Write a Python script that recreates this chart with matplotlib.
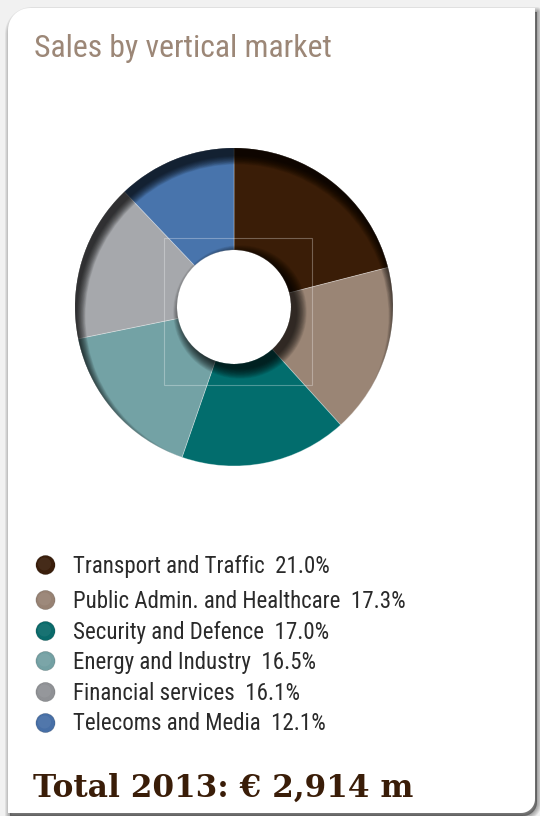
import numpy as np
import matplotlib
matplotlib.use("Agg")
import matplotlib.pyplot as plt
from matplotlib import font_manager
from matplotlib.patches import Wedge, Circle, Rectangle, PathPatch
from matplotlib.path import Path

# ---------------------------------------------------------------------------
# Data
# ---------------------------------------------------------------------------
labels = [
    "Transport and Traffic",
    "Public Admin. and Healthcare",
    "Security and Defence",
    "Energy and Industry",
    "Financial services",
    "Telecoms and Media",
]
shares = [21.0, 17.3, 17.0, 16.5, 16.1, 12.1]
slice_colors = ["#3a1d07", "#9a8575", "#026d6d", "#73a2a5", "#a6a8ac", "#4874ac"]
dot_colors = ["#3a1e0b", "#978273", "#0a6a6a", "#73a0a3", "#8f9195", "#476fa6"]
title = "Sales by vertical market"
total_text = "Total 2013: \u20ac 2,914 m"

# ---------------------------------------------------------------------------
# Fonts
# ---------------------------------------------------------------------------
installed = {f.name for f in font_manager.fontManager.ttflist}


def pick(*names):
    for n in names:
        if n in installed:
            return n
    return "DejaVu Sans"


SANS = pick("Liberation Sans Narrow", "Roboto Condensed", "Open Sans Condensed", "Lato", "Open Sans")
SERIF = pick("DejaVu Serif", "Liberation Serif")

W, H = 540, 816
fig = plt.figure(figsize=(W / 100, H / 100), dpi=100, facecolor="#f1f1f1")
ax = fig.add_axes([0, 0, 1, 1])


# ---------------------------------------------------------------------------
# Card (pixel coordinates, y downward)
# ---------------------------------------------------------------------------
def card_path(x0, y0, x1, y1, r_tl, r_br):
    verts = []
    t = np.linspace(np.pi, 1.5 * np.pi, 14)
    verts += list(zip(x0 + r_tl + r_tl * np.cos(t), y0 + r_tl + r_tl * np.sin(t)))
    verts.append((x1, y0))
    t = np.linspace(0, 0.5 * np.pi, 14)
    verts += list(zip(x1 - r_br + r_br * np.cos(t), y1 - r_br + r_br * np.sin(t)))
    verts.append((x0, y1))
    verts.append(verts[0])
    return Path(verts, closed=True)


for i in range(1, 7):
    shadow = card_path(8 + 2, 8 + 4, 535 + 2, 813 + 3, 22, 14)
    ax.add_patch(PathPatch(shadow, fc=(0, 0, 0, 0.08), ec=(0, 0, 0, 0.06),
                           lw=i * 1.2, joinstyle="round", zorder=0))
ax.add_patch(PathPatch(card_path(8, 8, 535, 813, 22, 14), fc="white", ec="none", zorder=0.5))

# ---------------------------------------------------------------------------
# Donut
# ---------------------------------------------------------------------------
cx, cy, R, r_in = 234, 307, 159, 57
wedges, _ = ax.pie(shares, colors=slice_colors, startangle=270, counterclock=True,
                   radius=R, center=(cx, cy), frame=True,
                   wedgeprops=dict(width=R - r_in, edgecolor=(1, 1, 1, 0.35), linewidth=0.6))

# inset shadow, clipped to the ring
clip = Wedge((cx, cy), R, 0, 360, width=R - r_in, transform=ax.transData, fc="none", ec="none")
ax.add_patch(clip)
n = 14
for k in range(n):
    rr = R + 1 - k * 0.65
    ring = Wedge((cx + 3, cy + 9), R + 40, 0, 360, width=R + 40 - rr,
                 fc="black", ec="none", alpha=0.08, zorder=2)
    ring.set_clip_path(clip)
    ax.add_patch(ring)
    disk = Circle((cx + 6, cy + 5), r_in + k * 0.75, fc="black", ec="none", alpha=0.075, zorder=2)
    disk.set_clip_path(clip)
    ax.add_patch(disk)

ax.add_patch(Rectangle((164, 238), 148, 147, fill=False, ec=(1, 1, 1, 0.3), lw=0.8, zorder=3))

# ---------------------------------------------------------------------------
# Legend
# ---------------------------------------------------------------------------
legend_y = [565, 600, 631, 661, 692, 723]
texts = []
for lab, v, c, y in zip(labels, shares, dot_colors, legend_y):
    ax.add_patch(Circle((45.5, y), 9.6, fc=c, ec=(0, 0, 0, 0.15), lw=0.6, zorder=3))
    ax.add_patch(Circle((44.5, y - 1), 6.5, fc="white", ec="none", alpha=0.06, zorder=3))
    texts.append(ax.text(73, y + 7.5, f"{lab}  {v:.1f}%", fontsize=14, family=SANS,
                         color="#2a2a2a", va="baseline", ha="left", zorder=4))

t_title = ax.text(34, 57, title, fontsize=20, family=SANS, color="#9c8777",
                  va="baseline", ha="left", zorder=4)
t_total = ax.text(33, 797, total_text, fontsize=22, family=SERIF, weight="bold",
                  color="#3a1d08", va="baseline", ha="left", zorder=4)

ax.set_xlim(0, W)
ax.set_ylim(H, 0)
ax.set_aspect("equal")
ax.axis("off")

# fit text widths to the reference
fig.canvas.draw()
rend = fig.canvas.get_renderer()


def fit(txt, target):
    w = txt.get_window_extent(renderer=rend).width
    txt.set_fontsize(txt.get_fontsize() * target / w)


fit(texts[1], 334)
for t in texts:
    t.set_fontsize(texts[1].get_fontsize())
fit(t_title, 298)
fit(t_total, 379)

fig.savefig("out.png", dpi=100, facecolor=fig.get_facecolor())
